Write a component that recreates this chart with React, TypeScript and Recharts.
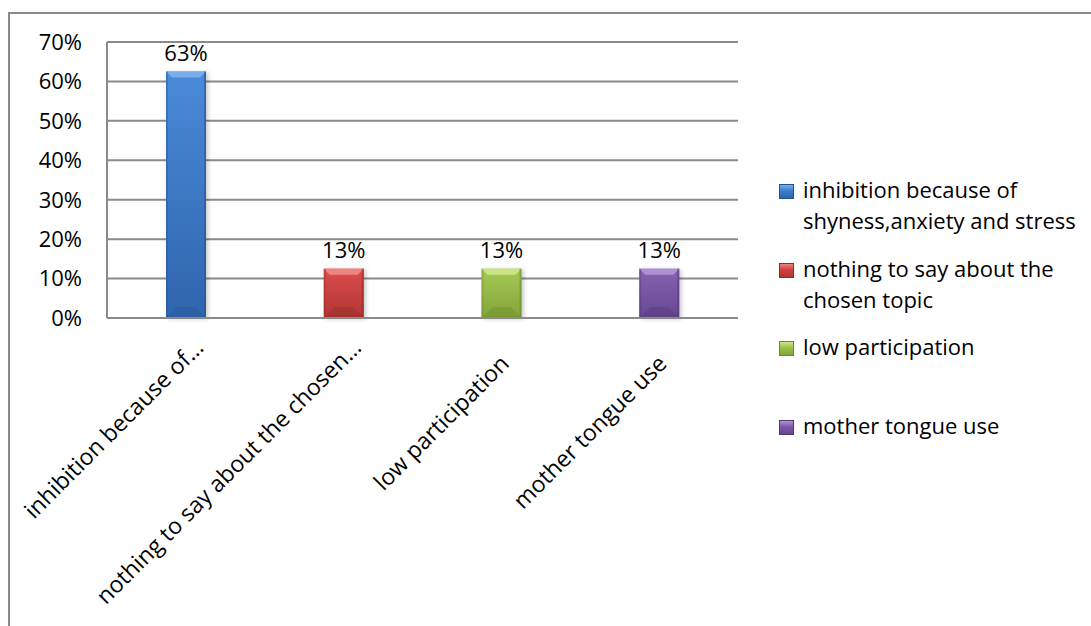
import React from 'react';
import { BarChart, Bar, XAxis, YAxis, CartesianGrid, Cell, LabelList, Legend } from 'recharts';

const CATEGORIES = [
  'inhibition because of shyness,anxiety and stress',
  'nothing to say about the chosen topic',
  'low participation',
  'mother tongue use',
];
const TICK_LABELS = [
  'inhibition because of…',
  'nothing to say about the chosen…',
  'low participation',
  'mother tongue use',
];
const LEGEND_LINES = [
  ['inhibition because of', 'shyness,anxiety and stress'],
  ['nothing to say about the', 'chosen topic'],
  ['low participation'],
  ['mother tongue use'],
];
const VALUES = [0.625, 0.125, 0.125, 0.125];
const Y_TICKS = [0, 0.1, 0.2, 0.3, 0.4, 0.5, 0.6, 0.7];

// base / light bevel / dark edge
const PALETTE = [
  { base: '#3b7ccc', top: '#4a8ad8', bottom: '#2f65ad', light: '#78aeee', dark: '#24528f' },
  { base: '#d1413e', top: '#dc4d4a', bottom: '#b13633', light: '#ee8480', dark: '#8f2a28' },
  { base: '#9bc14a', top: '#a6ca55', bottom: '#82a43a', light: '#cbe585', dark: '#6a8a2c' },
  { base: '#7c58a8', top: '#8764b3', bottom: '#664691', light: '#ae91d3', dark: '#513775' },
];

const FONT = '"Open Sans", sans-serif';
const GRID = '#8a8a8a';

const data = CATEGORIES.map((name, i) => ({ name, value: VALUES[i] }));

const pct = (v: number) => `${Math.round(v * 100)}%`;

function BevelBar(props: any) {
  const { x, y, width: w, height: h, index } = props;
  if (!w || !h) return null;
  const c = PALETTE[index % PALETTE.length];
  const bt = Math.min(6, h / 3);
  const bb = Math.min(11, h / 3);
  const id = `barGrad${index}`;
  return (
    <g style={{ filter: 'drop-shadow(2px 1px 2px rgba(0,0,0,0.22))' }}>
      <defs>
        <linearGradient id={id} x1="0" y1="0" x2="0" y2="1">
          <stop offset="0%" stopColor={c.top} />
          <stop offset="100%" stopColor={c.bottom} />
        </linearGradient>
      </defs>
      <rect x={x} y={y} width={w} height={h} fill={`url(#${id})`} />
      <polygon
        points={`${x},${y} ${x + w},${y} ${x + w - bt},${y + bt} ${x + bt},${y + bt}`}
        fill={c.light}
      />
      <polygon
        points={`${x},${y + h} ${x + w},${y + h} ${x + w - bb},${y + h - bb} ${x + bb},${y + h - bb}`}
        fill={c.dark}
        opacity={0.35}
      />
      <rect x={x} y={y} width={2} height={h} fill={c.dark} opacity={0.35} />
      <rect x={x + w - 2} y={y} width={2} height={h} fill={c.dark} opacity={0.55} />
    </g>
  );
}

function AngledTick(props: any) {
  const { x, y, index } = props;
  const text = TICK_LABELS[index] ?? '';
  // truncated labels sit a little higher, like the source
  const cut = text.endsWith('…');
  const dx = cut ? 19 : 9;
  const dy = cut ? 31 : 47;
  return (
    <g transform={`translate(${x + dx},${y + dy})`}>
      <text transform="rotate(-45)" textAnchor="end" fontSize={23} fontFamily={FONT} fill="#000">
        {text}
      </text>
    </g>
  );
}

function ChartLegend() {
  return (
    <div style={{ fontFamily: FONT, fontSize: 22, color: '#000' }}>
      {CATEGORIES.map((name, i) => {
        const c = PALETTE[i];
        return (
          <div key={name} style={{ display: 'flex', alignItems: 'flex-start', height: 78.5 }}>
            <div
              style={{
                width: 13,
                height: 13,
                marginTop: 10,
                marginRight: 9,
                flexShrink: 0,
                border: `1px solid ${c.dark}`,
                background: `linear-gradient(to bottom, ${c.light} 0%, ${c.base} 45%, ${c.bottom} 100%)`,
              }}
            />
            <div style={{ lineHeight: '31px', whiteSpace: 'nowrap' }}>
              {LEGEND_LINES[i].map((line) => (
                <div key={line}>{line}</div>
              ))}
            </div>
          </div>
        );
      })}
    </div>
  );
}

export default function App() {
  return (
    <div
      style={{
        position: 'absolute',
        left: 0,
        top: 0,
        width: 1091,
        height: 626,
        overflow: 'hidden',
        background: '#fff',
      }}
    >
      <div
        style={{
          position: 'absolute',
          left: 8,
          top: 12,
          width: 1200,
          height: 700,
          borderLeft: '2px solid #8a8a8a',
          borderTop: '2px solid #8a8a8a',
        }}
      />
      <BarChart
        width={1091}
        height={626}
        data={data}
        margin={{ top: 42, right: 353, bottom: 8, left: 10 }}
        style={{ position: 'absolute', left: 0, top: 0 }}
      >
        <CartesianGrid vertical={false} stroke={GRID} strokeWidth={2} />
        <YAxis
          type="number"
          domain={[0, 0.7]}
          ticks={Y_TICKS}
          tickFormatter={pct}
          width={97}
          axisLine={{ stroke: GRID, strokeWidth: 2 }}
          tickLine={false}
          tickSize={0}
          tickMargin={25}
          tick={{ fontSize: 22, fontFamily: FONT, fill: '#000' }}
        />
        <XAxis
          dataKey="name"
          height={300}
          interval={0}
          axisLine={{ stroke: GRID, strokeWidth: 2 }}
          tickLine={false}
          tickSize={0}
          tickMargin={0}
          tick={<AngledTick />}
        />
        <Legend
          layout="vertical"
          align="center"
          verticalAlign="middle"
          content={() => <ChartLegend />}
          wrapperStyle={{ position: 'absolute', left: 779, top: 174, width: 310, height: 320 }}
        />
        <Bar dataKey="value" barSize={40} shape={<BevelBar />} isAnimationActive={false}>
          {data.map((d, i) => (
            <Cell key={d.name} fill={PALETTE[i].base} />
          ))}
          <LabelList
            dataKey="value"
            position="top"
            offset={11}
            formatter={(v: any) => pct(Number(v))}
            style={{ fontSize: 22, fontFamily: FONT, fill: '#000' }}
          />
        </Bar>
      </BarChart>
    </div>
  );
}
